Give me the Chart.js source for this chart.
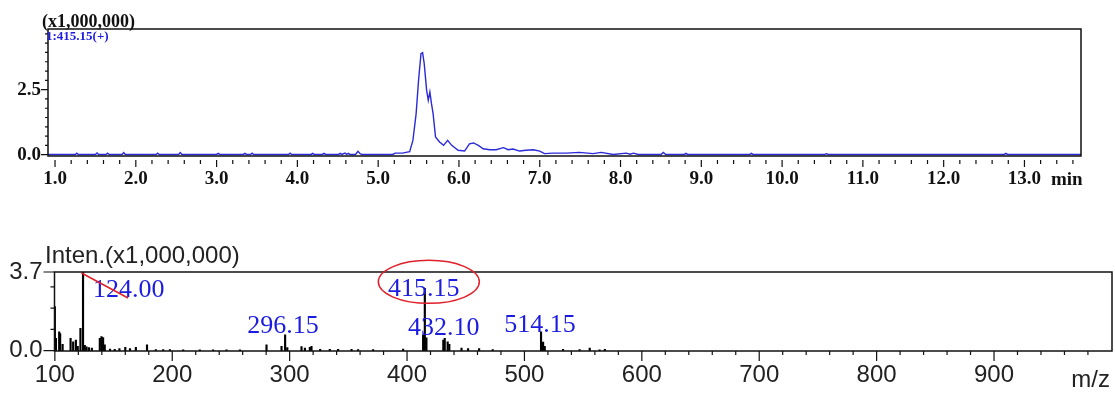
<!DOCTYPE html>
<html lang="en">
<head>
<meta charset="utf-8">
<title>LC-MS 415.15</title>
<script src="https://cdn.jsdelivr.net/npm/chart.js@4.4.1/dist/chart.umd.min.js"></script>
<style>
  body { margin: 0; background: #fff; }
  canvas { position: absolute; left: 0; }
  #top { top: 0; }
  #bottom { top: 230px; }
</style>
</head>
<body>
<canvas id="top" width="1115" height="200"></canvas>
<canvas id="bottom" width="1115" height="165"></canvas>
<script>
"use strict";

// chromatogram of m/z 415.15, time in min, intensity x1,000,000
const rtTime = [0.91, 1.25, 1.27, 1.29, 1.50, 1.52, 1.54, 1.63, 1.65, 1.67, 1.83, 1.85, 1.87,
  2.25, 2.27, 2.29, 2.53, 2.55, 2.57, 3.00, 3.02, 3.04, 3.33, 3.35, 3.37, 3.42, 3.44, 3.46,
  3.89, 3.91, 3.93, 4.17, 4.19, 4.21, 4.31, 4.33, 4.35, 4.51, 4.53, 4.55, 4.59, 4.61, 4.63, 4.65,
  4.72, 4.75, 4.78, 4.80, 5.18, 5.21, 5.30, 5.36, 5.39, 5.43, 5.47, 5.50, 5.53, 5.55, 5.57,
  5.60, 5.62, 5.64, 5.66, 5.68, 5.71, 5.76, 5.81, 5.86, 5.91, 5.99, 6.07, 6.13, 6.18, 6.24,
  6.30, 6.38, 6.46, 6.55, 6.61, 6.67, 6.75, 6.83, 6.92, 7.00, 7.06, 7.16, 7.33, 7.49, 7.66,
  7.76, 7.91, 8.07, 8.12, 8.16, 8.22, 8.50, 8.53, 8.56, 8.79, 8.81, 8.83, 9.60, 9.62, 9.64,
  10.53, 10.55, 10.57, 12.75, 12.77, 12.79, 13.70];
const rtInten = [0.01, 0.01, 0.06, 0.01, 0.01, 0.07, 0.01, 0.01, 0.06, 0.01, 0.01, 0.08, 0.01,
  0.01, 0.06, 0.01, 0.01, 0.08, 0.01, 0.01, 0.05, 0.01, 0.01, 0.05, 0.01, 0.01, 0.06, 0.01,
  0.01, 0.06, 0.01, 0.01, 0.05, 0.01, 0.01, 0.05, 0.01, 0.01, 0.05, 0.01, 0.06, 0.01, 0.05, 0.01,
  0.01, 0.13, 0.03, 0.01, 0.01, 0.06, 0.06, 0.10, 0.12, 0.55, 1.58, 2.86, 3.88, 3.92, 3.50,
  2.47, 2.09, 2.41, 1.96, 1.58, 0.68, 0.49, 0.36, 0.55, 0.36, 0.17, 0.14, 0.42, 0.45, 0.36,
  0.23, 0.19, 0.19, 0.27, 0.19, 0.22, 0.14, 0.17, 0.19, 0.14, 0.04, 0.06, 0.06, 0.09, 0.04,
  0.09, 0.01, 0.06, 0.02, 0.06, 0.01, 0.01, 0.09, 0.01, 0.01, 0.05, 0.01, 0.01, 0.05, 0.01,
  0.01, 0.04, 0.01, 0.01, 0.05, 0.01, 0.01];
const rtLabels = ['1.0', '2.0', '3.0', '4.0', '5.0', '6.0', '7.0', '8.0', '9.0', '10.0', '11.0', '12.0', '13.0'];
const rtIntenLabels = ['0.0', '2.5'];

// mass spectrum at the peak, intensity x1,000,000
const msMz = [100.0, 100.9, 103.7, 104.5, 106.6, 113.4, 115.6, 117.9, 119.5, 121.8, 124.0, 125.5,
  127.0, 129.0, 131.5, 138.3, 139.7, 141.1, 142.5, 147.0, 151.0, 155.0, 160.0, 164.0, 169.0,
  178.5, 186.0, 192.3, 198.0, 209.3, 223.5, 234.8, 246.2, 257.6, 280.3, 293.1, 296.15, 298.0,
  310.1, 313.0, 317.2, 318.6, 326.0, 334.2, 341.3, 352.7, 358.3, 371.1, 396.7, 413.7, 415.15,
  416.5, 430.9, 432.1, 434.6, 436.0, 446.4, 452.0, 461.4, 473.0, 514.15, 515.9, 517.3, 532.9,
  547.0, 555.6, 564.0, 568.5];
const msInten = [2.07, 0.58, 0.89, 0.80, 0.30, 0.58, 0.42, 0.50, 0.20, 1.05, 3.70, 0.25,
  0.18, 0.15, 0.12, 0.58, 0.66, 0.62, 0.27, 0.08, 0.06, 0.10, 0.16, 0.10, 0.16,
  0.27, 0.05, 0.05, 0.05, 0.04, 0.04, 0.04, 0.04, 0.04, 0.27, 0.20, 0.74, 0.15,
  0.19, 0.12, 0.16, 0.20, 0.06, 0.06, 0.06, 0.06, 0.05, 0.05, 0.08, 0.74, 2.93,
  0.60, 0.50, 0.58, 0.42, 0.30, 0.12, 0.10, 0.10, 0.05, 0.89, 0.40, 0.20, 0.06,
  0.05, 0.12, 0.04, 0.06];
const msLabels = ['100', '200', '300', '400', '500', '600', '700', '800', '900'];
const msIntenLabels = ['0.0', '3.7'];
const peakLabels = ['124.00', '296.15', '415.15', '432.10', '514.15'];

const serif = "'Liberation Serif', 'Times New Roman', serif";
const sans = "'Liberation Sans', Arial, sans-serif";
const blue = '#1c1ce0';

// tick lists: labelled values plus unlabelled minor marks
function tickList(from, to, step, labels) {
    const out = [];
    for (let v = from; v <= to + 1e-9; v += step) {
        const hit = labels.find(l => Math.abs(parseFloat(l) - v) < step / 4);
        out.push({ value: v, label: hit || '' });
    }
    return out;
}

// frame + tick marks + extra text, drawn after the data
function framePlugin(cfg) {
    return {
        id: 'frame',
        afterDraw(chart) {
            const { ctx, chartArea: a, scales: { x, y } } = chart;
            ctx.save();
            ctx.strokeStyle = '#111';
            ctx.lineWidth = 1.5;
            ctx.strokeRect(a.left, a.top, a.right - a.left, a.bottom - a.top);
            ctx.lineWidth = 1.2;
            ctx.beginPath();
            x.ticks.forEach(t => {
                const px = x.getPixelForValue(t.value);
                ctx.moveTo(px, a.bottom + cfg.xGap);
                ctx.lineTo(px, a.bottom + cfg.xGap + (t.label ? cfg.xMajor : cfg.xMinor));
            });
            y.ticks.forEach(t => {
                const py = y.getPixelForValue(t.value);
                ctx.moveTo(a.left, py);
                ctx.lineTo(a.left - (t.label ? cfg.yMajor : cfg.yMinor), py);
            });
            ctx.stroke();
            cfg.extra(chart, ctx);
            ctx.restore();
        }
    };
}

// chromatogram
const rtTicksX = tickList(1.0, 13.6, 0.2, rtLabels);
const rtTicksY = tickList(0, 4.7, 2.5 / 7, rtIntenLabels);

new Chart(document.getElementById('top'), {
    type: 'line',
    data: {
        datasets: [{
            data: rtTime.map((t, i) => ({ x: t, y: rtInten[i] })),
            borderColor: '#2a2ad8',
            borderWidth: 1.4,
            pointRadius: 0,
            tension: 0
        }]
    },
    options: {
        responsive: false,
        animation: false,
        layout: { padding: { top: 29, right: 34, left: 0, bottom: 0 } },
        plugins: { legend: { display: false }, tooltip: { enabled: false } },
        scales: {
            x: {
                type: 'linear', min: 0.913, max: 13.70,
                afterBuildTicks: s => { s.ticks = rtTicksX.map(t => ({ value: t.value })); },
                afterFit: s => { s.height = 44; },
                grid: { display: false, drawTicks: false },
                border: { display: false },
                ticks: {
                    autoSkip: false, maxRotation: 0, padding: 12, color: '#111',
                    font: { family: serif, size: 19, weight: 'bold' },
                    callback: (v, i) => rtTicksX[i].label
                }
            },
            y: {
                min: -0.05, max: 4.83,
                afterBuildTicks: s => { s.ticks = rtTicksY.map(t => ({ value: t.value })); },
                afterFit: s => { s.width = 48; },
                grid: { display: false, drawTicks: false },
                border: { display: false },
                ticks: {
                    autoSkip: false, padding: 7, color: '#111',
                    font: { family: serif, size: 19, weight: 'bold' },
                    callback: (v, i) => rtTicksY[i].label
                }
            }
        }
    },
    plugins: [framePlugin({
        xGap: 4, xMajor: 7, xMinor: 4, yMajor: 7, yMinor: 3,
        extra(chart, ctx) {
            const a = chart.chartArea;
            ctx.fillStyle = '#111';
            ctx.font = 'bold 18px ' + serif;
            ctx.textAlign = 'left';
            ctx.textBaseline = 'alphabetic';
            ctx.fillText('(x1,000,000)', 42, a.top - 2);
            ctx.font = 'bold 19px ' + serif;
            ctx.fillText('min', 1051, 185);
            ctx.fillStyle = blue;
            ctx.font = 'bold 13px ' + serif;
            ctx.fillText('1:415.15(+)', a.left - 2, a.top + 11);
        }
    })]
});

// mass spectrum
const msTicksX = tickList(100, 980, 20, msLabels);
const msTicksY = tickList(0, 3.7, 1, msIntenLabels);
msTicksY.push({ value: 3.7, label: '3.7' });

new Chart(document.getElementById('bottom'), {
    type: 'bar',
    data: {
        datasets: [{
            data: msMz.map((m, i) => ({ x: m, y: msInten[i] })),
            backgroundColor: '#000',
            barThickness: 1.5
        }]
    },
    options: {
        responsive: false,
        animation: false,
        layout: { padding: { top: 42, right: 3, left: 0, bottom: 0 } },
        plugins: { legend: { display: false }, tooltip: { enabled: false } },
        scales: {
            x: {
                type: 'linear', min: 99.7, max: 1000.5, offset: false,
                afterBuildTicks: s => { s.ticks = msTicksX.map(t => ({ value: t.value })); },
                afterFit: s => { s.height = 44; },
                grid: { display: false, drawTicks: false, offset: false },
                border: { display: false },
                ticks: {
                    autoSkip: false, maxRotation: 0, padding: 10, color: '#222',
                    font: { family: sans, size: 24 },
                    callback: (v, i) => msTicksX[i].label
                }
            },
            y: {
                min: -0.015, max: 3.7,
                afterBuildTicks: s => { s.ticks = msTicksY.map(t => ({ value: t.value })); },
                afterFit: s => { s.width = 54.5; },
                grid: { display: false, drawTicks: false },
                border: { display: false },
                ticks: {
                    autoSkip: false, padding: 12, color: '#222',
                    font: { family: sans, size: 24 },
                    callback: (v, i) => msTicksY[i].label
                }
            }
        }
    },
    plugins: [framePlugin({
        xGap: 0, xMajor: 10, xMinor: 4, yMajor: 11, yMinor: 4,
        extra(chart, ctx) {
            const { x, y } = chart.scales;
            ctx.fillStyle = '#222';
            ctx.font = '24px ' + sans;
            ctx.textAlign = 'left';
            ctx.fillText('Inten.(x1,000,000)', 45, 33);
            ctx.textAlign = 'right';
            ctx.fillText('m/z', 1110, 157);

            // peak annotations, placed relative to their sticks
            const place = [[0, 'left', 10, 25], [0, 'center', -2, -2], [0, 'center', -1, 8], [0, 'center', -1, -3], [0, 'center', -1, 0]];
            ctx.fillStyle = blue;
            ctx.font = '26px ' + serif;
            peakLabels.forEach((txt, i) => {
                const mz = parseFloat(txt);
                const k = msMz.findIndex(m => Math.abs(m - mz) < 0.01);
                const p = place[i];
                ctx.textAlign = p[1];
                ctx.fillText(txt, x.getPixelForValue(mz) + p[2], y.getPixelForValue(msInten[k]) + p[3]);
            });

            // red marks: strike on 124.00, ellipse round 415.15
            ctx.strokeStyle = '#e0202a';
            ctx.lineWidth = 1.5;
            const x124 = x.getPixelForValue(124), yTop = y.getPixelForValue(3.7);
            ctx.beginPath();
            ctx.moveTo(x124 - 1.5, yTop + 1);
            ctx.lineTo(x124 + 45, yTop + 26);
            ctx.stroke();
            const x415 = x.getPixelForValue(415.15), y415 = y.getPixelForValue(2.93);
            ctx.beginPath();
            ctx.ellipse(x415 + 4, y415 - 6.5, 50.5, 21.5, 0, 0, Math.PI * 2);
            ctx.stroke();
        }
    })]
});
</script>
</body>
</html>
